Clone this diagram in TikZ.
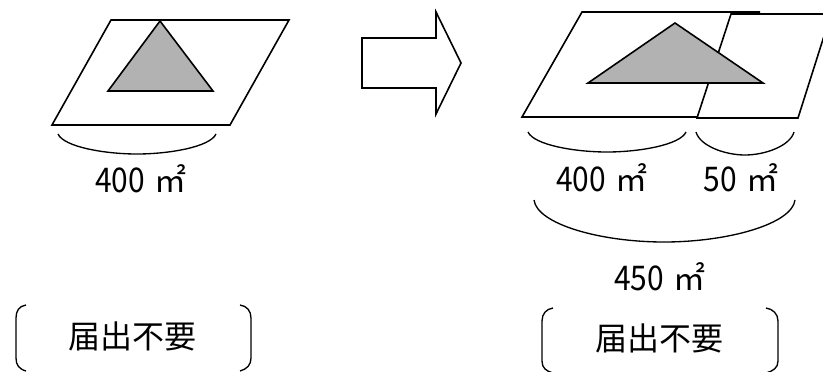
\documentclass[tikz,border=0pt]{standalone}
\usepackage{fontspec}
\usepackage{xcolor}
\usetikzlibrary{positioning,calc}
\newfontfamily\jafont{Noto Sans CJK JP}
\newfontfamily\numfont[FakeStretch=0.88]{Noto Sans CJK JP}
\definecolor{site}{RGB}{178,178,178}
\tikzset{
  outline/.style={draw=black,line width=1.2pt,line join=miter},
  curve/.style={draw=black,line width=1pt},
  areatext/.style={font=\jafont\fontsize{24}{26}\selectfont,inner sep=0pt},
}
\newcommand{\areaval}[1]{{\numfont\fontsize{25.5}{26}\selectfont #1}\hspace{2pt} ㎡}
\begin{document}
\begin{tikzpicture}[x=0.75pt,y=-0.75pt]
\useasboundingbox (0,0) rectangle (823,371);
\clip (0,0) rectangle (823,371);
% before
\draw[outline] (111,20)--(289,20)--(230,125)--(52,125)--cycle;
\draw[outline,fill=site] (160,21)--(213,91)--(108,91)--cycle;
\draw[curve] (58,134) .. controls (64,147) and (105,154) .. (137,154) .. controls (169,154) and (210,147) .. (216,134);
\node[areatext] (areaA) at (141,179) {\areaval{400}};
% arrow
\draw[outline] (362,38)--(436,38)--(436,12)--(461,63)--(436,114)--(436,88)--(362,88)--cycle;
% after
\draw[outline] (760,12)--(582,12)--(522,117)--(697,117);
\draw[outline] (831,14)--(731,14)--(697,118)--(798,118)--(831,14);
\draw[outline,fill=site] (675,23)--(763,83)--(588,83)--cycle;
\draw[curve] (528,132) .. controls (534,145) and (575,152) .. (607,152) .. controls (639,152) and (680,145) .. (686,132);
\draw[curve] (696,132) .. controls (700,146) and (725,155) .. (745,155) .. controls (765,155) and (790,146) .. (794,132);
\node[areatext] (areaB) at (602,178) {\areaval{400}};
\node[areatext] (areaC) at (741,178) {\areaval{50}};
\draw[curve] (534,200) .. controls (537,224) and (600,242) .. (664,242) .. controls (728,242) and (792,224) .. (795,200);
\node[areatext] (areaD) at (660,277) {\areaval{450}};
% brackets
\node[areatext] (noteA) at (132,336) {届出不要};
\draw[curve] (26,305) .. controls (19,306) and (16,311) .. (16,318)--(16,358) .. controls (16,365) and (19,369) .. (26,371);
\draw[curve] (240,305) .. controls (247,306) and (251,311) .. (251,318)--(251,358) .. controls (251,365) and (247,369) .. (240,371);
\node[areatext] (noteB) at (659,338) {届出不要};
\draw[curve] (553,308) .. controls (546,309) and (542,314) .. (542,321)--(542,361) .. controls (542,368) and (546,371) .. (553,373);
\draw[curve] (766,308) .. controls (773,309) and (778,314) .. (778,321)--(778,361) .. controls (778,368) and (773,371) .. (766,373);
\end{tikzpicture}
\end{document}
